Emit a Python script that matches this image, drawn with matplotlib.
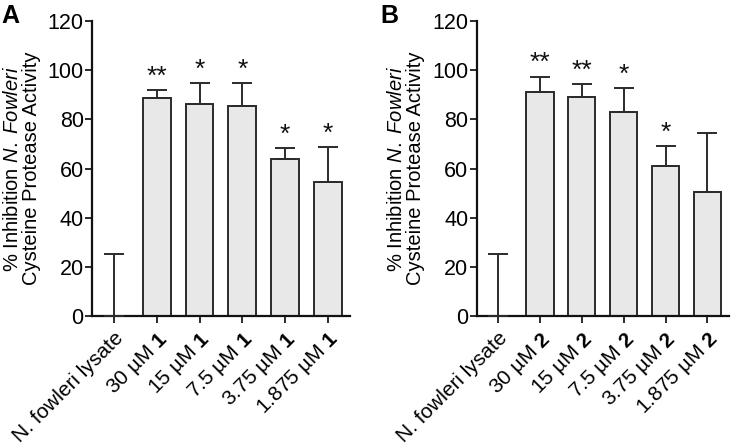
import matplotlib
matplotlib.use("Agg")
import matplotlib.pyplot as plt
import numpy as np

plt.rcParams['font.family'] = ['Liberation Sans', 'DejaVu Sans']
plt.rcParams['mathtext.fontset'] = 'custom'
plt.rcParams['mathtext.rm'] = 'Liberation Sans'
plt.rcParams['mathtext.it'] = 'Liberation Sans:italic'
plt.rcParams['mathtext.bf'] = 'Liberation Sans:bold'

conc = ["30 µM", "15 µM", "7.5 µM", "3.75 µM", "1.875 µM"]
lysate_label = "N. fowleri lysate"

means_A = [0, 88.8, 86.2, 85.6, 64.0, 54.6]
errs_A = [25.3, 3.2, 8.4, 9.2, 4.4, 14.2]
stars_A = ["", "**", "*", "*", "*", "*"]

means_B = [0, 91.0, 89.0, 83.0, 61.0, 50.6]
errs_B = [25.3, 6.4, 5.2, 9.6, 8.0, 24.0]
stars_B = ["", "**", "**", "*", "*", ""]

edge = '#2b2b2b'
face = '#e8e8e8'

fig = plt.figure(figsize=(7.37, 4.48), dpi=100)
axA = fig.add_axes([0.1248, 0.2946, 0.350, 0.6585])
axB = fig.add_axes([0.6468, 0.2946, 0.342, 0.6585])


def draw(ax, means, errs, stars, cmpd):
    x = np.arange(len(means))
    ax.bar(x, means, width=0.65, color=face, edgecolor=edge, linewidth=1.4, zorder=2)
    ax.errorbar(x, means, yerr=[np.zeros(len(errs)), errs], fmt='none', ecolor=edge,
                elinewidth=1.4, capsize=7.5, capthick=1.4, zorder=3)
    for xi, m, e, s in zip(x, means, errs, stars):
        if s:
            ax.text(xi, m + e + 0.5, s, ha='center', va='bottom', fontsize=19, color='#111111')
    ax.set_xlim(-0.51, 5.51)
    ax.set_ylim(0, 120)
    ax.set_yticks(np.arange(0, 121, 20))
    labels = [lysate_label] + [f"{c} $\\mathbf{{{cmpd}}}$" for c in conc]
    ax.set_xticks(x)
    ax.set_xticklabels(labels, rotation=45, ha='right', rotation_mode='anchor', fontsize=15)
    ax.tick_params(axis='y', labelsize=15.5, length=5, width=1.4, color=edge, pad=1)
    ax.tick_params(axis='x', length=5, width=1.4, color=edge, pad=4)
    for s in ['top', 'right']:
        ax.spines[s].set_visible(False)
    for s in ['left', 'bottom']:
        ax.spines[s].set_linewidth(1.6)
        ax.spines[s].set_color('#111111')
    ax.set_ylabel("% Inhibition $\\it{N.\\ Fowleri}$\nCysteine Protease Activity",
                  fontsize=14.5, labelpad=5, linespacing=1.0)
    return ax


draw(axA, means_A, errs_A, stars_A, "1")
draw(axB, means_B, errs_B, stars_B, "2")

fig.text(0.002, 0.99, "A", fontsize=18, fontweight='bold', va='top', ha='left')
fig.text(0.516, 0.99, "B", fontsize=18, fontweight='bold', va='top', ha='left')

fig.savefig("out.png", dpi=100)
